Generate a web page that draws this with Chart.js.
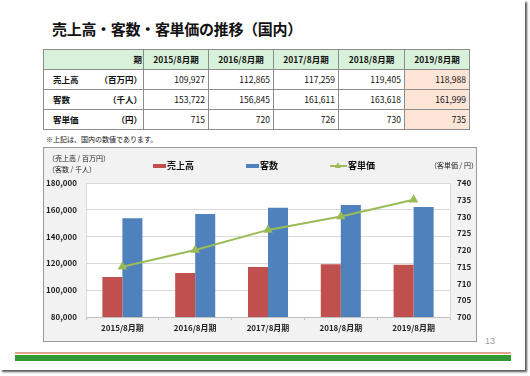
<!DOCTYPE html>
<html lang="ja">
<head>
<meta charset="utf-8">
<script src="https://cdn.jsdelivr.net/npm/chart.js@4"></script>
<style>
  body { margin: 0; background: #fff; font-family: "Noto Sans CJK JP", "Noto Sans", sans-serif; }
  #slide { position: absolute; left: 0; top: 0; width: 525px; height: 370px; background: #fff; box-shadow: 2px 2px 2px #555; overflow: hidden; }
  .abs { position: absolute; white-space: nowrap; }
  #title { left: 52px; top: 21px; font-size: 15px; font-weight: bold; line-height: 15px; color: #111; letter-spacing: -0.3px; }
  #tbl { position: absolute; left: 43px; top: 49px; border-collapse: collapse; table-layout: fixed; font-size: 8.5px; color: #111; }
  #tbl td { border: 1px solid #8c8c8c; height: 19px; padding: 0 3px; text-align: right; line-height: 1; }
  #tbl tr.head td { background: #d8f1da; font-weight: bold; text-align: center; }
  #tbl td.lbl { font-weight: bold; text-align: left; padding: 0 1px 0 9px; }
  #tbl td.lbl span { float: right; }
  #tbl td.last { background: #fce4d6; }
  #note { left: 46px; top: 135px; font-size: 7px; line-height: 8px; color: #111; }
  #box { position: absolute; left: 43px; top: 147px; width: 432px; height: 193px; border: 1px solid #9a9a9a; background: #f2f2f2; }
  #box canvas { position: absolute; left: 0; top: 0; }
  .axt { font-size: 7px; line-height: 8px; color: #222; }
  #legend { left: 153px; top: 161px; display: flex; gap: 52px; font-size: 9px; font-weight: bold; line-height: 10px; color: #111; }
  #legend .item { display: flex; align-items: center; }
  #legend .sw { display: inline-block; width: 13px; height: 4px; margin-right: 1px; position: relative; }
  #legend .ln { width: 17px; height: 2px; }
  #legend .tri { position: absolute; left: 5px; top: -3px; width: 0; height: 0; border-left: 3.5px solid transparent; border-right: 3.5px solid transparent; }
  #page { left: 485px; top: 336px; font-size: 9px; color: #a0a0a0; font-family: "Liberation Sans", sans-serif; }
  #stripe1 { position: absolute; left: 15px; top: 352px; width: 496px; height: 2px; background: #e3a592; }
  #stripe2 { position: absolute; left: 15px; top: 355px; width: 496px; height: 6px; background: #339933; }
</style>
</head>
<body>
<div id="slide">
  <div id="title" class="abs">売上高・客数・客単価の推移（国内）</div>
  <table id="tbl"></table>
  <div id="note" class="abs">※上記は、国内の数値であります。</div>
  <div id="box"><canvas id="chart" width="432" height="193"></canvas></div>
  <div class="abs axt" style="left:48px; top:154px;">（売上高 / 百万円）</div>
  <div class="abs axt" style="left:48px; top:165px;">（客数 / 千人）</div>
  <div class="abs axt" style="left:430px; top:161px;">（客単価 / 円）</div>
  <div id="legend" class="abs"></div>
  <div id="page" class="abs">13</div>
  <div id="stripe1"></div>
  <div id="stripe2"></div>
</div>

<script>
// === Data ===
const periods = ["2015/8月期", "2016/8月期", "2017/8月期", "2018/8月期", "2019/8月期"];
const sales = [109927, 112865, 117259, 119405, 118988];      // 百万円
const customers = [153722, 156845, 161611, 163618, 161999];  // 千人
const unitPrice = [715, 720, 726, 730, 735];                 // 円

const rowNames = ["売上高", "客数", "客単価"];
const rowUnits = ["（百万円）", "（千人）", "（円）"];
const colWidths = [100, 65, 65, 65, 66, 65];

const RED = "#c0504d", BLUE = "#4f81bd", GREEN = "#9bbb59";

// === Table ===
function buildTable() {
  const tbl = document.getElementById("tbl");
  const fmt = (v) => v.toLocaleString("en-US");
  const rows = [sales, customers, unitPrice];
  let html = "<colgroup>" + colWidths.map((w) => `<col style="width:${w}px">`).join("") + "</colgroup>";
  html += '<tr class="head"><td class="lbl" style="text-align:right">期</td>' +
    periods.map((p) => `<td>${p}</td>`).join("") + "</tr>";
  rows.forEach((vals, r) => {
    html += `<tr><td class="lbl">${rowNames[r]}<span>${rowUnits[r]}</span></td>` +
      vals.map((v, i) => `<td${i === vals.length - 1 ? ' class="last"' : ""}>${fmt(v)}</td>`).join("") + "</tr>";
  });
  tbl.innerHTML = html;
}
buildTable();

// === Plot area background ===
const whiteArea = {
  id: "whiteArea",
  beforeDraw(chart) {
    const { ctx, chartArea: a } = chart;
    ctx.save();
    ctx.fillStyle = "#fff";
    ctx.fillRect(a.left, a.top, a.right - a.left, a.bottom - a.top);
    ctx.restore();
  },
};

// === HTML legend built from the datasets ===
const htmlLegend = {
  id: "htmlLegend",
  afterUpdate(chart) {
    const box = document.getElementById("legend");
    box.innerHTML = "";
    chart.data.datasets.forEach((ds) => {
      const item = document.createElement("div");
      item.className = "item";
      const sw = document.createElement("span");
      if (ds.type === "line") {
        sw.className = "sw ln";
        sw.style.background = ds.borderColor;
        const tri = document.createElement("span");
        tri.className = "tri";
        tri.style.borderBottom = "6px solid " + ds.borderColor;
        sw.appendChild(tri);
      } else {
        sw.className = "sw";
        sw.style.background = ds.backgroundColor;
      }
      const txt = document.createElement("span");
      txt.textContent = ds.label;
      item.appendChild(sw);
      item.appendChild(txt);
      box.appendChild(item);
    });
  },
};

const tickFont = { family: "Noto Sans CJK JP", size: 8, weight: "bold" };

new Chart(document.getElementById("chart"), {
  type: "bar",
  data: {
    labels: periods,
    datasets: [
      {
        label: "売上高",
        data: sales,
        backgroundColor: RED,
        yAxisID: "y",
        order: 2,
        categoryPercentage: 0.55,
        barPercentage: 1.0,
      },
      {
        label: "客数",
        data: customers,
        backgroundColor: BLUE,
        yAxisID: "y",
        order: 2,
        categoryPercentage: 0.55,
        barPercentage: 1.0,
      },
      {
        type: "line",
        label: "客単価",
        data: unitPrice,
        borderColor: GREEN,
        backgroundColor: GREEN,
        borderWidth: 2,
        pointStyle: "triangle",
        pointRadius: 3.5,
        yAxisID: "y1",
        order: 1,
        tension: 0,
      },
    ],
  },
  options: {
    responsive: false,
    animation: false,
    layout: { padding: { top: 35, left: 0, right: 0, bottom: 0 } },
    plugins: {
      legend: { display: false },
      tooltip: { enabled: false },
    },
    scales: {
      x: {
        offset: true,
        grid: { display: true, drawOnChartArea: false, offset: true, tickLength: 3, color: "#bfbfbf" },
        border: { color: "#bfbfbf" },
        ticks: { font: tickFont, color: "#222", padding: 3 },
        afterFit: (s) => { s.height = 24; },
      },
      y: {
        position: "left",
        min: 80000,
        max: 180000,
        ticks: {
          stepSize: 20000,
          font: tickFont,
          color: "#222",
          padding: 9,
          callback: (v) => v.toLocaleString("en-US"),
        },
        grid: { color: "#d9d9d9", drawTicks: false },
        border: { color: "#d9d9d9" },
        afterFit: (s) => { s.width = 42; },
      },
      y1: {
        position: "right",
        min: 700,
        max: 740,
        ticks: { stepSize: 5, font: tickFont, color: "#222", padding: 7 },
        grid: { drawOnChartArea: false, drawTicks: false },
        border: { color: "#d9d9d9" },
        afterFit: (s) => { s.width = 26; },
      },
    },
  },
  plugins: [whiteArea, htmlLegend],
});
</script>
</body>
</html>
